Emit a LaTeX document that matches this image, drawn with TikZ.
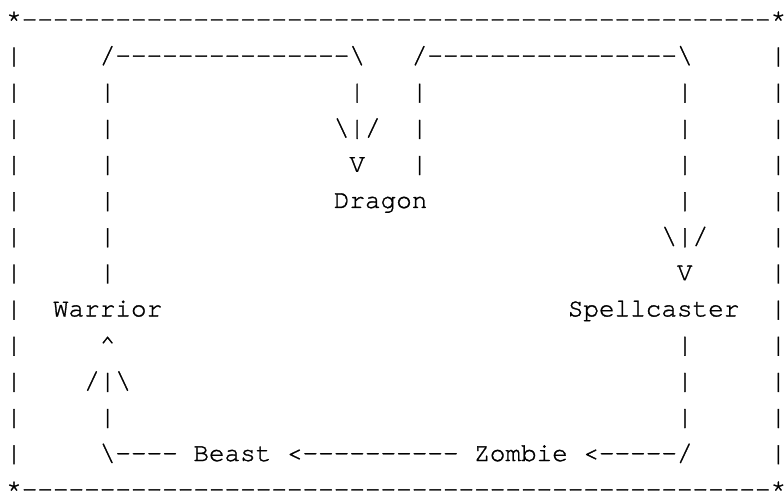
\documentclass[tikz,border=0pt]{standalone}
\usepackage{fontspec}
\setmonofont{texgyrecursor-regular.otf}[FakeBold=1.2]
\begin{document}
\begin{tikzpicture}[x=15.6pt,y=-36.15pt,
  asc/.style={anchor=base west,inner sep=0pt,outer sep=0pt,text=black,
    font=\ttfamily\fontsize{26pt}{30pt}\selectfont},
  ascc/.style={asc,anchor=base}]
\useasboundingbox (-6.2pt,27.2pt) rectangle (777.8pt,-466.8pt);
% outer frame
\node[asc] (tl) at (0,0) {*};
\node[asc] (topb) at (1,0) {------------------------------------------------};
\node[ascc] (tr) at (49.5,0) {\makebox[0pt]{*}};
\node[asc] (bl) at (0,13) {*};
\node[asc,yshift=4pt] (botb) at (1,13) {\raisebox{-4pt}[0pt][0pt]{------------------------------------------------}};
\node[ascc,yshift=4pt] (br) at (49.5,13) {\makebox[0pt]{\raisebox{-4pt}[0pt][0pt]{*}}};
\foreach \r in {1,...,12} {
  \node[asc] (lb\r) at (0,\r) {|};
  \node[ascc] (rb\r) at (49.5,\r) {\makebox[0pt]{|}};
}
% Warrior -> Dragon
\node[asc] (wdtop) at (6,1) {/---------------\textbackslash};
\foreach \r in {2,...,7} \node[asc] (wdl\r) at (6,\r) {|};
\node[asc] (wdr2) at (22,2) {|};
\node[asc] (wdtip) at (21,3) {\textbackslash|/};
\node[asc] (wdv) at (22,4) {V};
% Dragon -> Spellcaster
\node[asc] (dstop) at (26,1) {/----------------\textbackslash};
\foreach \r in {2,...,4} \node[asc] (dsl\r) at (26,\r) {|};
\foreach \r in {2,...,5} \node[asc] (dsr\r) at (43,\r) {|};
\node[asc] (dstip) at (42,6) {\textbackslash|/};
\node[asc] (dsv) at (43,7) {V};
% labels
\node[asc] (dragon) at (21,5) {Dragon};
\node[asc] (warrior) at (3,8) {Warrior};
\node[asc] (spell) at (36,8) {Spellcaster};
\node[asc] (beast) at (12,12) {Beast};
\node[asc] (zombie) at (30,12) {Zombie};
% Spellcaster -> Zombie
\foreach \r in {9,...,11} \node[asc] (szl\r) at (43,\r) {|};
\node[asc] (szb) at (37,12) {<-----/};
% Zombie -> Beast
\node[asc] (zb) at (18,12) {<----------};
% Beast -> Warrior
\node[asc] (bwb) at (6,12) {\textbackslash----};
\node[asc] (bwl) at (6,11) {|};
\node[asc] (bwtip) at (5,10) {/|\textbackslash};
\node[asc] (bwv) at (6,9) {\textasciicircum};
\end{tikzpicture}
\end{document}
